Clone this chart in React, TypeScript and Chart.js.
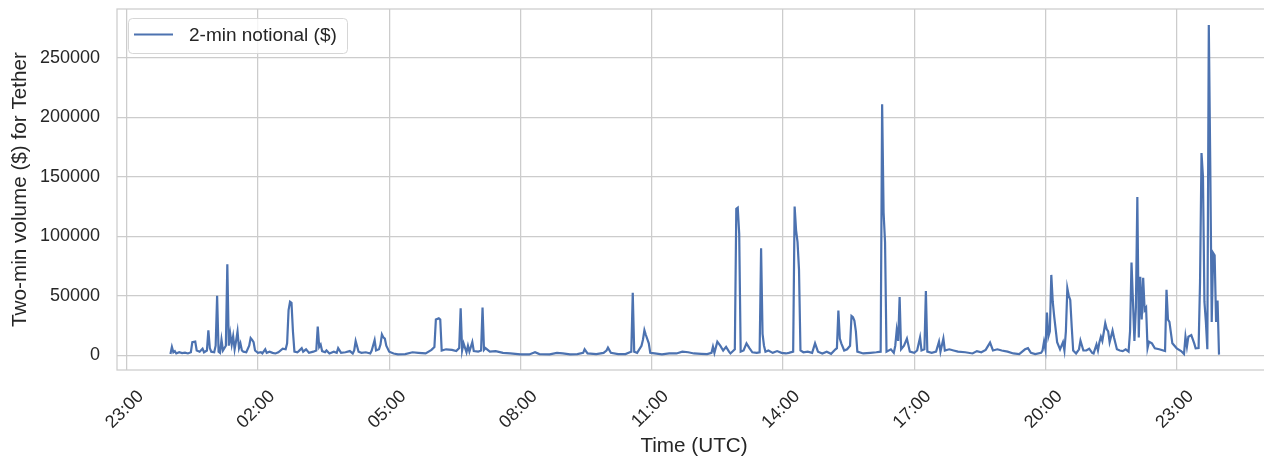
import React, { useEffect, useRef } from "react";
import { Chart, registerables } from "chart.js";

Chart.register(...registerables);

// ---- data ----
const sampleTimes: string[] = [
  "00:00","00:02","00:04","00:06","00:08","00:12","00:16","00:20","00:24","00:28",
  "00:30","00:34","00:36","00:40","00:44","00:46","00:50","00:52","00:54","00:56",
  "01:00","01:02","01:04","01:06","01:08","01:10","01:12","01:16","01:18","01:20",
  "01:22","01:24","01:26","01:28","01:30","01:32","01:34","01:36","01:38","01:40",
  "01:44","01:48","01:50","01:52","01:54","01:56","02:00","02:04","02:06","02:10",
  "02:12","02:16","02:20","02:24","02:28","02:34","02:38","02:40","02:42","02:44",
  "02:46","02:48","02:50","02:54","02:56","03:00","03:02","03:06","03:10","03:16",
  "03:20","03:22","03:24","03:26","03:28","03:32","03:34","03:38","03:44","03:48",
  "03:50","03:54","04:00","04:06","04:10","04:12","04:14","04:18","04:22","04:28",
  "04:34","04:36","04:40","04:42","04:46","04:48","04:50","04:52","04:54","04:56",
  "05:00","05:06","05:12","05:22","05:32","05:40","05:50","05:58","06:02","06:04",
  "06:08","06:10","06:12","06:18","06:26","06:32","06:36","06:38","06:40","06:42",
  "06:46","06:48","06:50","06:54","06:56","07:02","07:06","07:08","07:10","07:12",
  "07:18","07:26","07:36","07:46","08:00","08:12","08:20","08:26","08:40","08:50",
  "08:58","09:08","09:18","09:26","09:28","09:32","09:44","09:54","09:58","10:00",
  "10:04","10:14","10:24","10:30","10:32","10:34","10:36","10:40","10:46","10:48",
  "10:50","10:52","10:56","10:58","11:04","11:14","11:24","11:34","11:42","11:50",
  "11:58","12:08","12:16","12:22","12:24","12:26","12:30","12:34","12:38","12:42",
  "12:46","12:48","12:54","12:56","12:58","13:00","13:02","13:06","13:10","13:14",
  "13:18","13:24","13:28","13:30","13:32","13:34","13:36","13:40","13:46","13:52",
  "13:58","14:04","14:08","14:14","14:16","14:18","14:20","14:22","14:24","14:28",
  "14:34","14:40","14:44","14:48","14:54","15:00","15:06","15:12","15:14","15:16",
  "15:18","15:20","15:24","15:28","15:32","15:34","15:36","15:38","15:40","15:42",
  "15:50","16:00","16:08","16:14","16:16","16:18","16:20","16:22","16:28","16:32",
  "16:34","16:36","16:38","16:40","16:42","16:46","16:50","16:54","17:00","17:04",
  "17:08","17:10","17:14","17:16","17:18","17:24","17:30","17:34","17:36","17:40",
  "17:42","17:48","17:54","18:00","18:10","18:20","18:26","18:32","18:38","18:44",
  "18:48","18:54","19:00","19:08","19:16","19:24","19:32","19:36","19:40","19:46",
  "19:54","19:56","19:58","20:00","20:02","20:04","20:06","20:08","20:10","20:12",
  "20:16","20:20","20:24","20:26","20:28","20:30","20:32","20:34","20:36","20:38",
  "20:42","20:46","20:48","20:52","20:56","21:00","21:04","21:06","21:10","21:12",
  "21:14","21:16","21:18","21:22","21:24","21:26","21:28","21:32","21:34","21:38",
  "21:42","21:46","21:50","21:54","21:56","21:58","22:00","22:02","22:04","22:06",
  "22:08","22:10","22:12","22:14","22:16","22:18","22:20","22:22","22:26","22:30",
  "22:36","22:44","22:46","22:48","22:50","22:54","23:00","23:06","23:10","23:12",
  "23:14","23:16","23:20","23:24","23:26","23:30","23:32","23:34","23:36","23:38",
  "23:40","23:42","23:44","23:46","23:48","23:50","23:52","23:54","23:56","23:58",
];

const notionalValues: number[] = [
  1000,7000,2500,3500,1500,2500,1800,2200,1500,2500,
  11000,11500,4000,3000,5500,2500,4000,21000,6000,3000,
  2500,8000,50000,3000,2000,13000,4000,8000,76500,8000,
  18000,9000,16000,5000,12000,20000,6000,10000,4000,3000,
  2500,8000,14500,13000,11000,4000,2000,2500,1500,5000,
  2000,3000,2000,1500,2500,5500,5000,10000,38000,45000,
  44000,20000,3000,2500,3500,6000,3000,5000,2000,3000,
  4000,24000,7000,9000,3500,2500,4000,1500,3000,2000,
  6000,2000,2500,3500,1500,4000,12000,3000,2000,2500,
  1500,4000,12800,4000,5000,9000,17500,15000,14000,8000,
  3000,1500,800,900,2500,2000,1500,4500,7000,30000,
  31000,30000,4000,5000,4500,3500,6000,39500,4000,10000,
  2500,8000,3000,11000,3500,3000,4000,40000,4500,6000,
  3000,3500,2000,1500,800,700,2500,1000,700,2000,
  1500,800,1000,2000,5000,1500,1000,2000,4000,6400,
  2000,1000,1000,2500,3000,52600,3000,2000,8000,13000,
  21000,17000,10000,2000,1500,800,1500,1500,3000,2500,
  1500,1200,1000,2000,7200,2000,11400,8000,4000,7000,
  3000,1500,5000,123000,124000,102000,3000,4000,10000,6000,
  2500,2000,2500,90000,18000,8000,3000,4000,2000,3500,
  2000,1500,2000,3000,125000,105000,95000,72000,4000,2500,
  3000,2000,10000,3000,1500,3000,1200,5000,6000,37500,
  14000,10000,4000,5000,8000,33000,32000,29000,20000,3000,
  1500,2000,2500,3000,211000,120000,95000,3000,5000,2000,
  8000,21000,12000,49000,5000,8000,14000,3000,2000,4000,
  15000,4000,5000,54000,3000,2000,3000,11400,3000,14000,
  4000,5000,4000,3000,2500,1500,3500,2500,4500,10600,
  4000,5000,4000,3000,1500,1000,5000,6000,2000,1000,
  2000,4000,11400,5000,35800,15600,20000,67500,45000,32400,
  11000,5000,11000,4000,20000,56300,50000,46500,24000,4000,
  1500,5000,12300,4000,4000,5500,2000,1500,9000,4000,
  11000,15600,12000,26900,22000,20000,11000,20700,15000,5000,
  4000,3500,5000,3000,20000,78000,45000,12000,40000,133000,
  15000,66000,30000,65000,38000,40000,6000,11400,10000,5800,
  5000,3500,55000,30000,28000,10000,5800,3500,1000,15600,
  7200,15600,17000,10000,5800,6000,62000,170000,150000,45000,
  28000,5000,277500,160000,28000,86000,84000,28000,46000,500,
];

// x ticks: minutes from midnight of the plotted day (first tick is previous day)
const xTickValues: number[] = [-60, 120, 300, 480, 660, 840, 1020, 1200, 1380];
const xTickLabels: string[] = ["23:00", "02:00", "05:00", "08:00", "11:00", "14:00", "17:00", "20:00", "23:00"];
const yTickValues: number[] = [0, 50000, 100000, 150000, 200000, 250000];

const seriesLabel = "2-min notional ($)";
const xAxisTitle = "Time (UTC)";
const yAxisTitle = "Two-min volume ($) for Tether";

const FONT = "'Liberation Sans', Arial, Helvetica, sans-serif";
const TEXT = "#262626";
const GRID = "#cccccc";
const LINE = "#4c72b0";

function toMinutes(hhmm: string): number {
  const [h, m] = hhmm.split(":").map(Number);
  return h * 60 + m;
}

const framePlugin = {
  id: "frame",
  beforeDatasetsDraw(chart: any) {
    const { ctx, chartArea } = chart;
    ctx.save();
    ctx.strokeStyle = GRID;
    ctx.lineWidth = 1.25;
    ctx.strokeRect(chartArea.left, chartArea.top, chartArea.right - chartArea.left, chartArea.bottom - chartArea.top);
    ctx.restore();
  },
};

const legendBoxPlugin = {
  id: "legendBox",
  afterDraw(chart: any) {
    const { ctx, chartArea } = chart;
    const ds = chart.data.datasets[0];
    const x = chartArea.left + 11;
    const y = chartArea.top + 9;
    const w = 219;
    const h = 35;
    ctx.save();
    ctx.beginPath();
    ctx.roundRect(x + 0.5, y + 0.5, w, h, 4);
    ctx.fillStyle = "rgba(255,255,255,0.8)";
    ctx.fill();
    ctx.strokeStyle = "#d6d6d6";
    ctx.lineWidth = 1;
    ctx.stroke();
    ctx.beginPath();
    ctx.moveTo(x + 6, y + 16.5);
    ctx.lineTo(x + 45, y + 16.5);
    ctx.strokeStyle = ds.borderColor;
    ctx.lineWidth = 2;
    ctx.stroke();
    ctx.fillStyle = TEXT;
    ctx.font = `19px ${FONT}`;
    ctx.textBaseline = "middle";
    ctx.textAlign = "left";
    ctx.fillText(ds.label, x + 61, y + 18);
    ctx.restore();
  },
};

export default function App() {
  const canvasRef = useRef<HTMLCanvasElement | null>(null);

  useEffect(() => {
    if (!canvasRef.current) return;
    const points = sampleTimes.map((t, i) => ({ x: toMinutes(t), y: notionalValues[i] }));
    const chart = new Chart(canvasRef.current, {
      type: "line",
      data: {
        datasets: [
          {
            label: seriesLabel,
            data: points,
            borderColor: LINE,
            backgroundColor: LINE,
            borderWidth: 2.2,
            pointRadius: 0,
            tension: 0,
            fill: false,
          },
        ],
      },
      options: {
        animation: false,
        responsive: false,
        layout: { padding: { top: 9, left: 0, right: 1, bottom: 0 } },
        plugins: {
          legend: { display: false },
          tooltip: { enabled: false },
          title: { display: false },
        },
        scales: {
          x: {
            type: "linear",
            min: -73.3,
            max: 1509.3,
            afterBuildTicks: (axis: any) => {
              axis.ticks = xTickValues.map((v) => ({ value: v }));
            },
            afterFit: (s: any) => {
              s.height = 89;
              s.paddingLeft = 0;
              s.paddingRight = 0;
              s.paddingTop = 0;
              s.paddingBottom = 0;
            },
            ticks: {
              autoSkip: false,
              minRotation: 45,
              maxRotation: 45,
              padding: 16,
              labelOffset: 14,
              color: TEXT,
              font: { family: FONT, size: 18 },
              callback: (_v: any, i: number) => xTickLabels[i],
            },
            grid: { color: GRID, lineWidth: 1.25, drawTicks: false },
            border: { display: false },
            title: {
              display: true,
              text: xAxisTitle,
              color: TEXT,
              font: { family: FONT, size: 20.7 },
              padding: { top: 0, bottom: 0 },
            },
          },
          y: {
            type: "linear",
            min: -12400,
            max: 291000,
            afterBuildTicks: (axis: any) => {
              axis.ticks = yTickValues.map((v) => ({ value: v }));
            },
            afterFit: (s: any) => {
              s.width = 117;
              s.paddingLeft = 0;
              s.paddingRight = 0;
              s.paddingTop = 0;
              s.paddingBottom = 0;
            },
            ticks: {
              padding: 17,
              color: TEXT,
              font: { family: FONT, size: 18 },
              callback: (v: any) => String(v),
            },
            grid: { color: GRID, lineWidth: 1.25, drawTicks: false },
            border: { display: false },
            title: {
              display: true,
              text: yAxisTitle,
              color: TEXT,
              font: { family: FONT, size: 20.7 },
              padding: { top: 8, bottom: 0 },
            },
          },
        },
      },
      plugins: [framePlugin, legendBoxPlugin],
    } as any);
    return () => chart.destroy();
  }, []);

  return (
    <div
      style={{
        position: "absolute",
        left: 0,
        top: 0,
        width: 1264,
        height: 459,
        overflow: "hidden",
        background: "#ffffff",
      }}
    >
      <canvas ref={canvasRef} width={1272} height={459} style={{ display: "block" }} />
    </div>
  );
}
